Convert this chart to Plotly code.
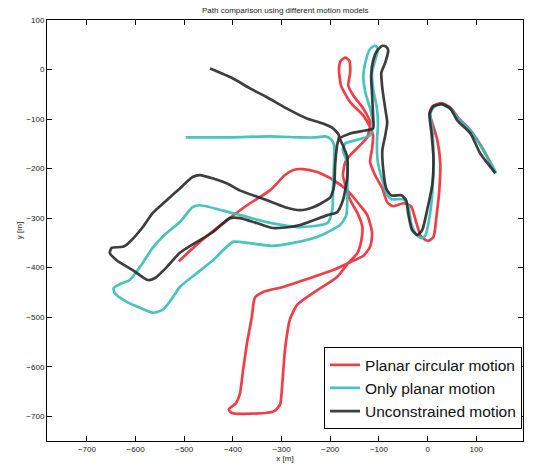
import plotly.graph_objects as go

# ---- data (metres) ----
red_x = [-511, -468, -412, -371, -324, -293, -276, -256, -227, -194, -165, -139, -124, -114, -118, -132,
         -159, -194, -241, -297, -338, -355, -361, -371, -379, -386, -394, -408, -406, -394, -330, -314,
         -303, -299, -293, -283, -268, -235, -186, -165, -144, -136, -134, -144, -159, -167, -174, -169,
         -159, -139, -124, -118, -132, -153, -163, -159, -161, -169, -178, -182, -178, -159, -132, -118,
         -112, -114, -118, -108, -93, -83, -71, -50, -34, -23, -13, 1, 12, 18, 24, 26, 20, 10, 4, 10, 28,
         47, 61, 88, 115, 139]
red_y = [-387, -348, -304, -274, -244, -213, -203, -201, -207, -223, -244, -274, -294, -330, -358, -376,
         -389, -405, -421, -439, -449, -461, -499, -552, -606, -656, -674, -685, -691, -695, -693, -689,
         -676, -640, -566, -505, -475, -451, -419, -393, -370, -344, -318, -290, -264, -240, -213, -187,
         -173, -153, -137, -107, -79, -52, -32, -6, 18, 24, 18, 2, -32, -66, -93, -117,
         -133, -159, -187, -213, -240, -268, -276, -270, -276, -310, -338, -346, -338, -298, -244, -189,
         -143, -109, -89, -74, -68, -77, -95, -123, -163, -209]

cyan_x = [-497, -406, -324, -262, -229, -210, -198, -192, -192, -194, -196, -206, -262, -330, -400, -468,
          -483, -509, -536, -565, -585, -612, -632, -645, -643, -618, -591, -565, -544, -523, -509, -474,
          -441, -400, -371, -318, -276, -227, -180, -167, -165, -165, -174, -169, -149, -118, -112, -118,
          -128, -132, -128, -118, -108, -102, -108, -114, -112, -104, -102, -104, -102, -91, -83, -73,
          -50, -40, -34, -23, -13, -5, 4, 10, 12, 10, 6, 12, 26, 47, 61, 88, 115, 141]
cyan_y = [-137, -137, -135, -137, -137, -135, -141, -153, -183, -230, -284, -310, -318, -308, -290, -274,
          -278, -308, -330, -360, -390, -425, -433, -441, -451, -469, -481, -491, -485, -459, -439, -411,
          -385, -348, -350, -356, -350, -338, -314, -294, -244, -189, -163, -149, -143, -133, -113, -79,
          -46, -12, 14, 42, 48, 42, 18, -6, -38, -79, -113, -143, -189, -230, -254, -262,
          -262, -274, -310, -334, -340, -336, -298, -244, -177, -123, -89, -77, -70, -79, -97, -123, -163, -209]

black_x = [-447, -400, -365, -330, -289, -248, -215, -194, -182, -186, -190, -192, -200, -215, -235, -262,
           -293, -330, -386, -412, -468, -483, -509, -536, -565, -585, -612, -626, -649, -653, -639, -606,
           -575, -560, -536, -509, -474, -441, -406, -386, -351, -318, -283, -262, -206, -186, -174, -165,
           -165, -174, -180, -159, -128, -112, -112, -114, -116, -112, -104, -93, -85, -81, -87, -95,
           -93, -87, -83, -87, -93, -91, -85, -75, -54, -44, -40, -32, -21, -11, -1, 10, 12, 8, 4, 12,
           30, 47, 61, 88, 108, 139]
black_y = [2, -18, -38, -56, -79, -99, -109, -119, -133, -153, -193, -234, -258, -268, -278, -284,
           -278, -264, -244, -230, -213, -217, -240, -264, -290, -318, -348, -358, -360, -370, -385, -405,
           -425, -421, -399, -370, -348, -328, -300, -300, -310, -320, -318, -314, -294, -288, -264, -217,
           -177, -153, -139, -129, -123, -119, -93, -52, -12, 18, 38, 48, 46, 38, 14, -6,
           -38, -79, -107, -133, -163, -203, -240, -254, -254, -264, -290, -324, -334, -324, -284, -230, -177, -129, -89, -74,
           -70, -79, -103, -129, -169, -209]

series_names = ["Planar circular motion", "Only planar motion", "Unconstrained motion"]
series_colors = ["rgb(238,42,52)", "rgb(52,190,182)", "rgb(42,42,42)"]
tick_vals = [-700, -600, -500, -400, -300, -200, -100, 0, 100]
x_range = [-782, 196]
y_range = [-750, 100]

FONT = "Liberation Sans, Arial, Helvetica, sans-serif"

fig = go.Figure()
for xs, ys, name, col in zip([red_x, cyan_x, black_x], [red_y, cyan_y, black_y], series_names, series_colors):
    fig.add_trace(go.Scatter(x=xs, y=ys, mode="lines", name=name,
                             line=dict(color=col, width=2.7, shape="spline", smoothing=0.6),
                             opacity=0.9))

axis_common = dict(showline=True, linecolor="black", linewidth=1, mirror="ticks",
                   ticks="inside", ticklen=5, tickcolor="black", showgrid=False, zeroline=False,
                   automargin=False,
                   tickfont=dict(family=FONT, size=8, color="#222"), tickvals=tick_vals)

fig.update_layout(
    width=534, height=466,
    margin=dict(l=47, r=11, t=20, b=25),
    paper_bgcolor="white", plot_bgcolor="white",
    xaxis=dict(range=x_range, title=dict(text="x [m]", standoff=0, font=dict(family=FONT, size=8, color="#222")),
               **axis_common),
    yaxis=dict(range=y_range, title=dict(text="y [m]", standoff=2, font=dict(family=FONT, size=8, color="#222")),
               **axis_common),
    legend=dict(x=0.998, y=0.028, xanchor="right", yanchor="bottom",
                bgcolor="white", bordercolor="black", borderwidth=1,
                font=dict(family=FONT, size=15.5, color="#111"),
                tracegroupgap=0),
    showlegend=True,
    annotations=[dict(text="Path comparison using different motion models", xref="paper", yref="paper",
                      x=0.5, y=1, xanchor="center", yanchor="middle", yshift=10, showarrow=False,
                      font=dict(family=FONT, size=8, color="#222"))],
)

fig.write_html("out.html",
               config={"displayModeBar": False},
               post_script="document.body.style.margin='0';document.body.style.overflow='hidden';")
